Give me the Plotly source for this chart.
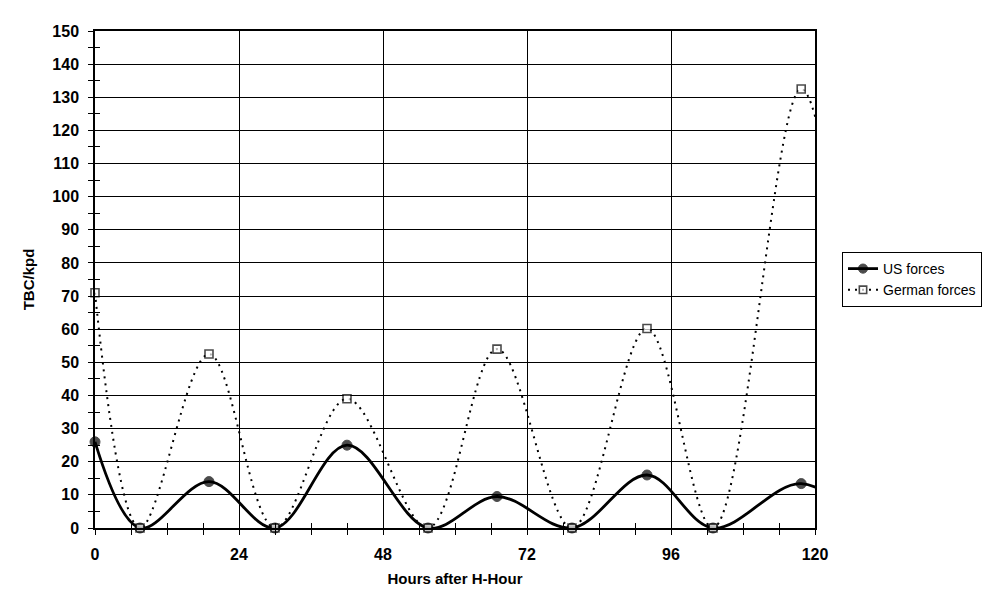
import plotly.graph_objects as go

# hours after H-Hour (last point lies past the axis end, curve is clipped there)
HOURS = [0, 7.5, 19, 30, 42, 55.5, 67, 79.5, 92, 103, 117.7, 129]
US_FORCES = [26, 0, 14, 0, 25, 0, 9.5, 0, 16, 0, 13.4, 0]
GERMAN_FORCES = [71, 0, 52.5, 0, 39, 0, 54, 0, 60.2, 0, 132.5, 0]

X_TICKS = [0, 24, 48, 72, 96, 120]
Y_TICKS = list(range(0, 151, 10))

FONT = "Arial, Liberation Sans, sans-serif"
INK = "#000000"

# hide the marker of the off-axis point
sizes_us = [10] * (len(HOURS) - 1) + [0]
sizes_de = [8] * (len(HOURS) - 1) + [0]

fig = go.Figure()

fig.add_trace(go.Scatter(
    name="US forces", x=HOURS, y=US_FORCES, mode="lines+markers",
    line=dict(color=INK, width=2.8, shape="spline", smoothing=1),
    marker=dict(symbol="circle", size=sizes_us, color=INK, line=dict(width=1, color=INK)),
    cliponaxis=False,
))
fig.add_trace(go.Scatter(
    name="German forces", x=HOURS, y=GERMAN_FORCES, mode="lines+markers",
    line=dict(color=INK, width=2, dash="2px,5px", shape="spline", smoothing=1),
    marker=dict(symbol="square", size=sizes_de, color="white", line=dict(width=1.6, color=INK)),
    cliponaxis=False,
))
# invisible helper so the overlay axes (inner half of the crossing ticks) get drawn
fig.add_trace(go.Scatter(x=[0], y=[0], xaxis="x2", yaxis="y2", mode="markers",
                         marker=dict(opacity=0), showlegend=False, hoverinfo="skip"))

fig.update_layout(
    width=990, height=589,
    margin=dict(l=87, r=183, t=23, b=67),
    paper_bgcolor="white", plot_bgcolor="white",
    font=dict(family=FONT, color=INK),
    showlegend=True,
    legend=dict(
        x=1.0375, y=0.5, xanchor="left", yanchor="middle",
        bordercolor=INK, borderwidth=1, bgcolor="white",
        font=dict(size=14, family=FONT),
        tracegroupgap=0,
    ),
    xaxis=dict(
        range=[0, 120], tickvals=X_TICKS, ticks="outside", ticklen=5, tickwidth=1,
        tickcolor=INK, ticklabelstandoff=6,
        minor=dict(dtick=6, tick0=0, ticks="outside", ticklen=5, tickcolor=INK, showgrid=False),
        showgrid=True, gridcolor=INK, gridwidth=1,
        showline=True, linecolor=INK, linewidth=1.5, mirror=True,
        zeroline=False,
        tickfont=dict(size=16, weight="bold"),
        title=dict(text="Hours after H-Hour", font=dict(size=15, weight="bold"), standoff=12),
    ),
    yaxis=dict(
        range=[0, 150], tickvals=Y_TICKS, ticks="outside", ticklen=5, tickwidth=1,
        tickcolor=INK, ticklabelstandoff=6,
        minor=dict(dtick=5, tick0=0, ticks="outside", ticklen=5, tickcolor=INK, showgrid=False),
        showgrid=True, gridcolor=INK, gridwidth=1,
        showline=True, linecolor=INK, linewidth=1.5, mirror=True,
        zeroline=False,
        tickfont=dict(size=16, weight="bold"),
        title=dict(text="TBC/kpd", font=dict(size=15, weight="bold"), standoff=14),
    ),
    xaxis2=dict(overlaying="x", range=[0, 120], dtick=6, tick0=0, ticks="inside", ticklen=5,
                tickcolor=INK, showticklabels=False, showgrid=False, zeroline=False,
                showline=False, side="bottom", anchor="y2"),
    yaxis2=dict(overlaying="y", range=[0, 150], dtick=5, tick0=0, ticks="inside", ticklen=5,
                tickcolor=INK, showticklabels=False, showgrid=False, zeroline=False,
                showline=False, side="left", anchor="x2"),
)

fig.write_html("out.html")
